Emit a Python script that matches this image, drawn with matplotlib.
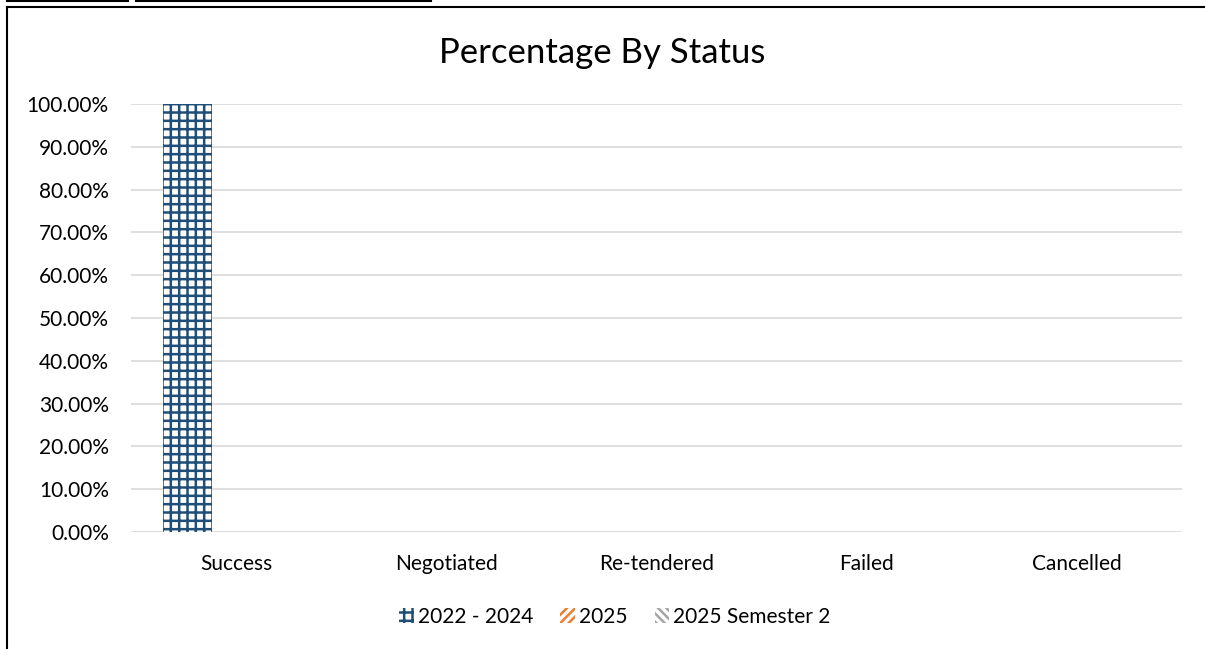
import numpy as np
import matplotlib.pyplot as plt
from matplotlib.lines import Line2D
from matplotlib.ticker import PercentFormatter

categories = ["Success", "Negotiated", "Re-tendered", "Failed", "Cancelled"]
series_names = ["2022 - 2024", "2025", "2025 Semester 2"]
vals_2022_2024 = [100.0, 0.0, 0.0, 0.0, 0.0]
vals_2025 = [0.0, 0.0, 0.0, 0.0, 0.0]
vals_2025_s2 = [0.0, 0.0, 0.0, 0.0, 0.0]
y_ticks = [0, 10, 20, 30, 40, 50, 60, 70, 80, 90, 100]

plt.rcParams['font.family'] = ['Lato', 'DejaVu Sans']
plt.rcParams['hatch.linewidth'] = 1.8

W, H = 1205, 649
fig = plt.figure(figsize=(W / 100, H / 100), dpi=100)
ax = fig.add_axes([131 / W, 1 - 532 / H, (1182 - 131) / W, (532 - 104) / H])

x = np.arange(len(categories))
bw = 0.233
styles = [
    dict(edgecolor='#1F4E79', hatch='++'),
    dict(edgecolor='#ED7D31', hatch='////'),
    dict(edgecolor='#A5A5A5', hatch='\\\\\\\\'),
]
all_vals = [vals_2022_2024, vals_2025, vals_2025_s2]
for i, (name, vals, st) in enumerate(zip(series_names, all_vals, styles)):
    ax.bar(x + (i - 1) * bw, vals, bw, facecolor='white', linewidth=0,
           label=name, **st)

ax.set_xlim(-0.5, len(categories) - 0.5)
ax.set_ylim(0, 100)
ax.set_yticks(y_ticks)
ax.yaxis.set_major_formatter(PercentFormatter(decimals=2))
ax.set_xticks(x)
ax.set_xticklabels(categories)
ax.tick_params(length=0, labelsize=15, colors='#000000')
ax.tick_params(axis='x', pad=15.5)
ax.tick_params(axis='y', pad=16)
ax.grid(axis='y', color='#D9D9D9', linewidth=1.2)
ax.set_axisbelow(True)
for s in ax.spines.values():
    s.set_visible(False)

fig.text(0.5, 1 - 53 / H, "Percentage By Status", ha='center', va='center', fontsize=25)

leg = fig.legend(loc='center', bbox_to_anchor=(615 / W, 1 - 617 / H), ncol=3, frameon=False,
                 fontsize=15, handlelength=0.7, handleheight=0.7, handletextpad=0.2,
                 columnspacing=1.3)
for h in leg.legend_handles:
    h.set_linewidth(0)

# outer frame lines
lw = 1.5
fig.add_artist(Line2D([7 / W, 1], [1 - 7 / H, 1 - 7 / H], color='black', lw=lw))
fig.add_artist(Line2D([7 / W, 7 / W], [0, 1 - 7 / H], color='black', lw=lw))
fig.add_artist(Line2D([7 / W, 128 / W], [1 - 0.8 / H, 1 - 0.8 / H], color='black', lw=lw))
fig.add_artist(Line2D([136 / W, 431 / W], [1 - 0.8 / H, 1 - 0.8 / H], color='black', lw=lw))

fig.savefig('out.png', dpi=100)
